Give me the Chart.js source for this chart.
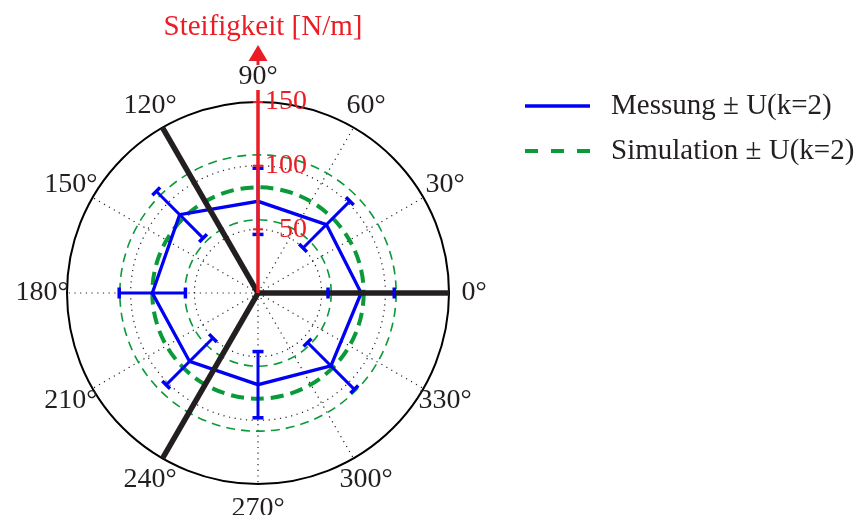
<!DOCTYPE html>
<html>
<head>
<meta charset="utf-8">
<script src="https://cdn.jsdelivr.net/npm/chart.js@4.4.1/dist/chart.umd.min.js"></script>
<style>
  html, body { margin: 0; padding: 0; background: #fff; }
  #wrap { width: 859px; height: 515px; position: relative; }
</style>
</head>
<body>
<div id="wrap"><canvas id="chart" width="859" height="515"></canvas></div>
<script>
// Radar categories in degrees (0 at the right, counter-clockwise), 15 deg steps
const thetaCats = [0, 345, 330, 315, 300, 285, 270, 255, 240, 225, 210, 195,
                   180, 165, 150, 135, 120, 105, 90, 75, 60, 45, 30, 15];
const thetaTicks = [0, 30, 60, 90, 120, 150, 180, 210, 240, 270, 300, 330];
const radialTicks = [50, 100, 150];

// Messung: stiffness per direction and expanded uncertainty U(k=2)
const measAngles = [0, 45, 90, 135, 180, 225, 270, 315];
const measValues = [81, 76, 72, 87, 83, 76, 72, 81];
const measU = [26, 26, 26, 26, 26, 26, 26, 26];

// Simulation: same in every direction
const simValue = 83;
const simU = 25.5;

// sensor arms
const armAngles = [0, 120, 240];

const seriesNames = ['Messung ± U(k=2)', 'Simulation ± U(k=2)'];
const axisTitle = 'Steifigkeit [N/m]';

const BLUE = '#0000f5';
const GREEN = '#0a9a3a';
const RED = '#ec1c24';
const INK = '#231f20';
const FONT = '"Liberation Serif", "Times New Roman", serif';

const measSeries = thetaCats.map(a => {
    const k = measAngles.indexOf(a);
    return k < 0 ? null : measValues[k];
});

const idxOf = (a) => thetaCats.indexOf(a);

const polarDeco = {
    id: 'polarDeco',
    beforeDatasetsDraw(chart) {
        const r = chart.scales.r;
        const ctx = chart.ctx;
        ctx.save();
        ctx.strokeStyle = GREEN;
        const rings = [
            [simValue - simU, 1.6, [9, 6]],
            [simValue + simU, 1.6, [9, 6]],
            [simValue, 4, [13, 7]]
        ];
        rings.forEach(([v, w, d]) => {
            ctx.lineWidth = w;
            ctx.setLineDash(d);
            ctx.beginPath();
            ctx.arc(r.xCenter, r.yCenter, r.getDistanceFromCenterForValue(v), 0, Math.PI * 2);
            ctx.stroke();
        });
        ctx.restore();
    },
    afterDatasetsDraw(chart) {
        const r = chart.scales.r;
        const ctx = chart.ctx;
        ctx.save();
        ctx.setLineDash([]);
        ctx.lineCap = 'butt';

        // error bar stems
        ctx.strokeStyle = BLUE;
        ctx.lineWidth = 3;
        measAngles.forEach((a, i) => {
            const p1 = r.getPointPositionForValue(idxOf(a), measValues[i] - measU[i]);
            const p2 = r.getPointPositionForValue(idxOf(a), measValues[i] + measU[i]);
            ctx.beginPath();
            ctx.moveTo(p1.x, p1.y);
            ctx.lineTo(p2.x, p2.y);
            ctx.stroke();
        });

        // black arms
        ctx.strokeStyle = INK;
        ctx.lineWidth = 5.5;
        armAngles.forEach(a => {
            const p = r.getPointPositionForValue(idxOf(a), r.max);
            ctx.beginPath();
            ctx.moveTo(r.xCenter, r.yCenter);
            ctx.lineTo(p.x, p.y);
            ctx.stroke();
        });

        // error bar caps
        ctx.strokeStyle = BLUE;
        ctx.lineWidth = 3.5;
        measAngles.forEach((a, i) => {
            const ang = r.getIndexAngle(idxOf(a)) - Math.PI / 2;
            const px = -Math.sin(ang) * 5.5, py = Math.cos(ang) * 5.5;
            [measValues[i] - measU[i], measValues[i] + measU[i]].forEach(v => {
                const p = r.getPointPositionForValue(idxOf(a), v);
                ctx.beginPath();
                ctx.moveTo(p.x - px, p.y - py);
                ctx.lineTo(p.x + px, p.y + py);
                ctx.stroke();
            });
        });

        // red stiffness axis
        const top = r.yCenter - r.drawingArea;
        ctx.strokeStyle = RED;
        ctx.fillStyle = RED;
        ctx.lineWidth = 3.5;
        ctx.beginPath();
        ctx.moveTo(r.xCenter, r.yCenter);
        ctx.lineTo(r.xCenter, top - 12);
        ctx.stroke();
        ctx.lineWidth = 2;
        ctx.font = '28px ' + FONT;
        ctx.textAlign = 'right';
        ctx.textBaseline = 'middle';
        radialTicks.forEach(v => {
            const p = r.getPointPositionForValue(idxOf(90), v);
            ctx.beginPath();
            ctx.moveTo(p.x - 5, p.y);
            ctx.lineTo(p.x + 5, p.y);
            ctx.stroke();
            ctx.fillText(String(v), p.x + 49, p.y);
        });
        // arrow head above the 90° label
        ctx.lineWidth = 3;
        ctx.beginPath();
        ctx.moveTo(r.xCenter, top - 37);
        ctx.lineTo(r.xCenter, top - 42);
        ctx.stroke();
        ctx.beginPath();
        ctx.moveTo(r.xCenter, top - 57);
        ctx.lineTo(r.xCenter + 9.5, top - 41);
        ctx.lineTo(r.xCenter - 9.5, top - 41);
        ctx.closePath();
        ctx.fill();
        ctx.textAlign = 'center';
        ctx.textBaseline = 'alphabetic';
        ctx.font = '29px ' + FONT;
        ctx.fillText(axisTitle, r.xCenter + 5, 35);

        // angle labels
        ctx.fillStyle = INK;
        ctx.font = '28px ' + FONT;
        ctx.textAlign = 'center';
        ctx.textBaseline = 'middle';
        thetaTicks.forEach(a => {
            const p = r.getPointPosition(idxOf(a), r.drawingArea + 25);
            ctx.fillText(a + '°', p.x, p.y);
        });

        // legend
        const lx = 525, lw = 65, tx = 611;
        const rows = [106, 151];
        ctx.textAlign = 'left';
        ctx.textBaseline = 'middle';
        ctx.font = '29px ' + FONT;
        ctx.lineWidth = 3.5;
        ctx.strokeStyle = BLUE;
        ctx.setLineDash([]);
        ctx.beginPath();
        ctx.moveTo(lx, rows[0]);
        ctx.lineTo(lx + lw, rows[0]);
        ctx.stroke();
        ctx.fillText(seriesNames[0], tx, rows[0]);
        ctx.strokeStyle = GREEN;
        ctx.lineWidth = 4;
        ctx.setLineDash([13, 13]);
        ctx.beginPath();
        ctx.moveTo(lx, rows[1]);
        ctx.lineTo(lx + lw, rows[1]);
        ctx.stroke();
        ctx.setLineDash([]);
        ctx.fillText(seriesNames[1], tx, rows[1]);

        ctx.restore();
    }
};

new Chart(document.getElementById('chart').getContext('2d'), {
    type: 'radar',
    data: {
        labels: thetaCats,
        datasets: [{
            label: seriesNames[0],
            data: measSeries,
            borderColor: BLUE,
            backgroundColor: BLUE,
            borderWidth: 3.3,
            pointRadius: 0,
            pointHoverRadius: 0,
            spanGaps: true,
            fill: false,
            tension: 0
        }]
    },
    options: {
        responsive: false,
        animation: false,
        devicePixelRatio: 1,
        layout: { padding: { left: 67, right: 409, top: 102, bottom: 30 } },
        plugins: {
            legend: { display: false },
            title: { display: false },
            tooltip: { enabled: false }
        },
        scales: {
            r: {
                min: 0,
                max: 150,
                startAngle: 90,
                ticks: { display: false, stepSize: 50 },
                pointLabels: { display: false },
                grid: {
                    circular: true,
                    color: (c) => c.tick && c.tick.value === 150 ? '#000' : '#222',
                    lineWidth: (c) => c.tick && c.tick.value === 150 ? 2 : 1.2
                },
                border: {
                    dash: (c) => c.tick && c.tick.value === 150 ? [] : [1.2, 4.5]
                },
                angleLines: {
                    color: (c) => c.index % 2 === 0 ? '#222' : 'rgba(0,0,0,0)',
                    lineWidth: (c) => c.index % 2 === 0 ? 1.2 : 0,
                    borderDash: [1.2, 4.5]
                }
            }
        }
    },
    plugins: [polarDeco]
});
</script>
</body>
</html>
